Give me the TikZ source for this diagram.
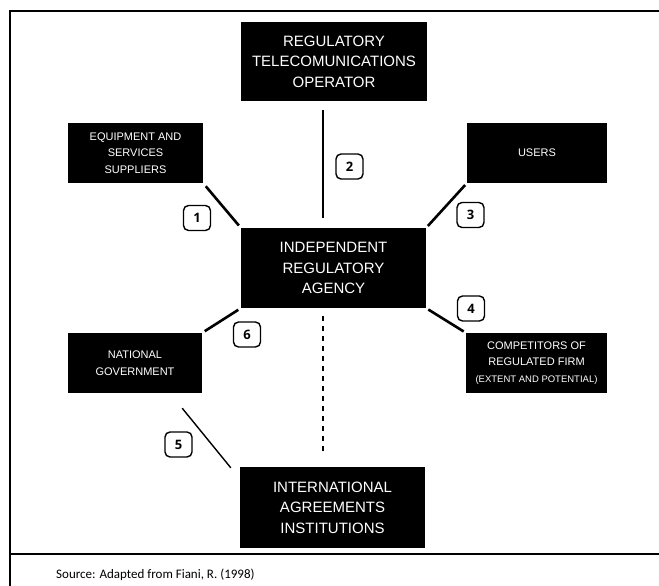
\documentclass[tikz,border=0pt]{standalone}
\usepackage{fontspec}
\setmainfont{Liberation Sans}
\newfontfamily\srcfont{Carlito}
\newfontfamily\numfont{Open Sans}
\usetikzlibrary{calc}
\tikzset{
  blackbox/.style={fill=black, text=white, inner sep=0pt, align=center},
  bigbox/.style={blackbox, minimum width=185pt, minimum height=80pt, font=\fontsize{15}{20.5}\selectfont},
  smallbox/.style={blackbox, minimum width=137pt, minimum height=60pt, font=\fontsize{11}{16.5}\selectfont},
  link/.style={line width=2.6pt},
  thinlink/.style={line width=1.4pt},
  dashlink/.style={line width=1.4pt, dash pattern=on 5pt off 5pt},
  numlabel/.style={draw, line width=1.4pt, rounded corners=5pt, minimum width=27pt, minimum height=25pt, inner sep=0pt, font=\numfont\bfseries\fontsize{13}{13}\selectfont},
  frameline/.style={line width=2pt}
}
\begin{document}
\begin{tikzpicture}[x=1pt, y=-1pt]
\useasboundingbox (0,0) rectangle (659,586);
% frame
\draw[frameline] (659,11) -- (10,11) -- (10,586);
\draw[frameline] (10,554) -- (659,554);
% boxes
\node[bigbox, minimum width=186pt, minimum height=79pt] (top) at (334,61.5) {REGULATORY\\TELECOMUNICATIONS\\OPERATOR};
\node[bigbox] (ira) at (333.5,268) {INDEPENDENT\\REGULATORY\\AGENCY};
\node[bigbox, minimum height=81pt] (intl) at (332.5,507.5) {INTERNATIONAL\\AGREEMENTS\\INSTITUTIONS};
\node[smallbox, minimum width=135pt] (equip) at (135.5,153) {EQUIPMENT AND\\SERVICES\\SUPPLIERS};
\node[smallbox, minimum width=140pt] (users) at (537,153) {USERS};
\node[smallbox, minimum width=134pt] (natgov) at (135,363) {NATIONAL\\GOVERNMENT};
\node[smallbox, minimum width=141pt] (comp) at (536.5,363) {COMPETITORS OF\\REGULATED FIRM\\{\fontsize{9.5}{16.5}\selectfont(EXTENT AND POTENTIAL)}};
% connectors
\draw[link, shorten <=4pt, shorten >=3pt] (equip.south east) -- (ira.north west);
\draw[link] ($(top.south)+(-11,9)$) -- ($(ira.north)+(-10.5,-10)$);
\draw[link, shorten <=2.5pt, shorten >=2.5pt] (users.south west) -- (ira.north east);
\draw[link, shorten <=2.5pt, shorten >=2.5pt] (ira.south east) -- (comp.north west);
\draw[link, shorten <=3pt, shorten >=3pt] (ira.south west) -- (natgov.north east);
\draw[thinlink] ($(natgov.south east)+(-20,15)$) -- ($(intl.north west)+(-9,1)$);
\draw[dashlink] ($(ira.south)+(-10.5,8)$) -- ($(intl.north)+(-9.5,-11)$);
% number labels
\node[numlabel] (n1) at (197,218) {1};
\node[numlabel] (n2) at (349.5,166.5) {2};
\node[numlabel] (n3) at (470.5,215) {3};
\node[numlabel] (n4) at (471,308.5) {4};
\node[numlabel] (n5) at (178.5,444.5) {5};
\node[numlabel] (n6) at (247,334.5) {6};
% source
\node[anchor=west, inner sep=0pt, font=\srcfont\fontsize{13}{15}\selectfont] (src) at (56,575) {Source: Adapted from Fiani, R. (1998)};
\end{tikzpicture}
\end{document}
